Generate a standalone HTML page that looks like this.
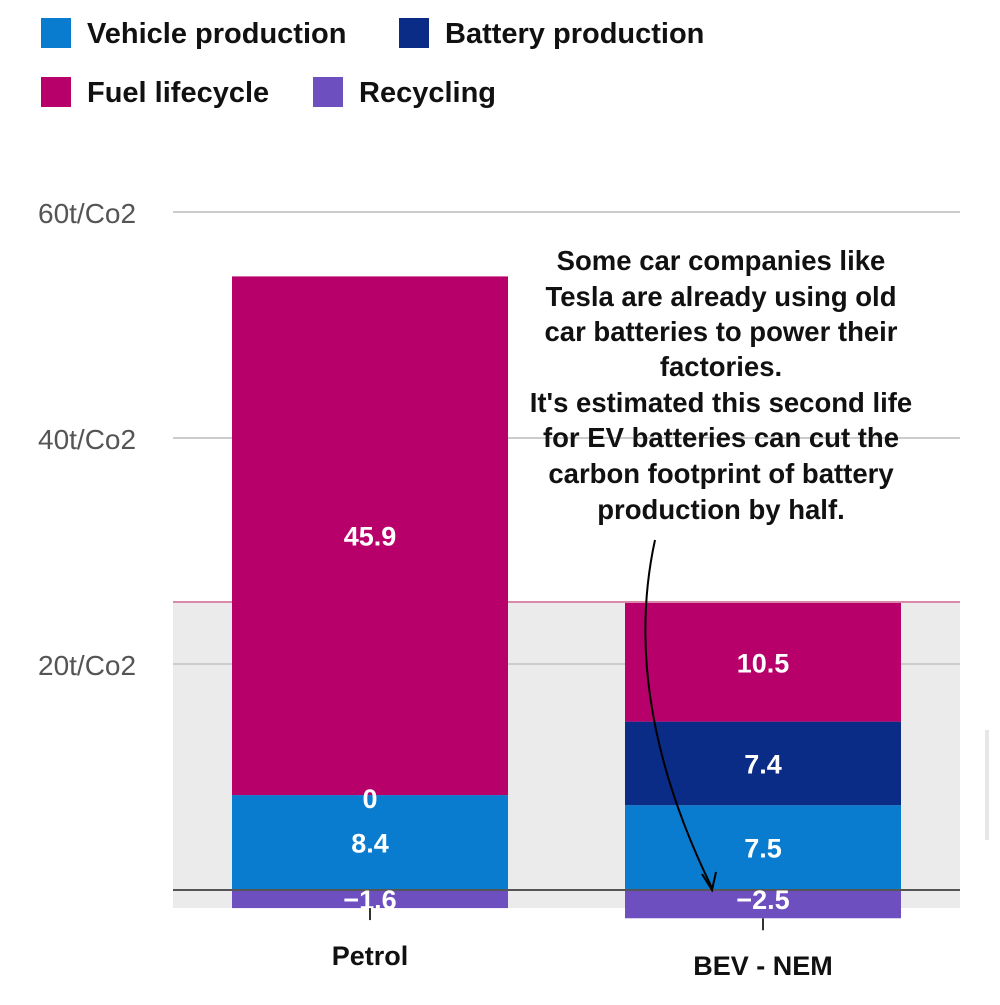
<!DOCTYPE html>
<html><head><meta charset="utf-8"><style>
body{margin:0;background:#fff;width:1000px;height:1000px;overflow:hidden;font-family:"Liberation Sans",sans-serif}
</style></head><body>
<svg width="1000" height="1000" id="c" xmlns="http://www.w3.org/2000/svg">
<g font-size="29" font-weight="bold" fill="#111">
<g><rect x="41" y="18" width="30" height="30" fill="#0a7ccf"/><text x="87" y="43">Vehicle production</text></g>
<g><rect x="399" y="18" width="30" height="30" fill="#0a2b86"/><text x="445" y="43">Battery production</text></g>
<g><rect x="41" y="77" width="30" height="30" fill="#b8006a"/><text x="87" y="102">Fuel lifecycle</text></g>
<g><rect x="313" y="77" width="30" height="30" fill="#6e4fbf"/><text x="359" y="102">Recycling</text></g>
</g>
<rect x="173" y="602" width="787" height="306" fill="#ebebeb"/>
<line x1="173" y1="602" x2="960" y2="602" stroke="#d98aa8" stroke-width="2"/>
<g id="grid"></g>
<g id="bars"></g>
<line x1="173" y1="890" x2="960" y2="890" stroke="#555" stroke-width="2"/>
<g id="labels"></g>
<g font-size="27.5" font-weight="bold" fill="#111" text-anchor="middle">
<text x="721" y="270">Some car companies like</text>
<text x="721" y="306">Tesla are already using old</text>
<text x="721" y="341">car batteries to power their</text>
<text x="721" y="376">factories.</text>
<text x="721" y="412">It's estimated this second life</text>
<text x="721" y="447">for EV batteries can cut the</text>
<text x="721" y="483">carbon footprint of battery</text>
<text x="721" y="519">production by half.</text>
</g>
<path d="M655,540 Q620,700 712,888" fill="none" stroke="#000" stroke-width="2"/>
<path d="M702,874 L712,890 L716,872" fill="none" stroke="#000" stroke-width="2"/>
<rect x="985" y="730" width="4" height="110" fill="#e6e6e6"/>
</svg>
<script>
const categories=["Petrol","BEV - NEM"];
const vehicle=[8.4,7.5];
const battery=[0,7.4];
const fuel=[45.9,10.5];
const recycling=[-1.6,-2.5];
const yTicks=[20,40,60];
const ns="http://www.w3.org/2000/svg";
const y=v=>890-v*11.3;
const xc=i=>370+i*393;
const bw=276;
function mk(t,a,p){const e=document.createElementNS(ns,t);for(const k in a)e.setAttribute(k,a[k]);p.appendChild(e);return e;}
const grid=document.getElementById('grid'),bars=document.getElementById('bars'),labels=document.getElementById('labels');
yTicks.forEach(t=>{
 const l=mk('line',{x1:173,x2:960,y1:y(t),y2:y(t),stroke:'#ccc','stroke-width':2},grid);
 
 
 const tx=mk('text',{x:38,y:y(t)+11,'font-size':28,fill:'#555'},grid);
 tx.textContent=t+'t/Co2';
 
 
});
const series=[["vehicle",vehicle,"#0a7ccf"],["battery",battery,"#0a2b86"],["fuel",fuel,"#b8006a"]];
categories.forEach((c,i)=>{
 let base=0;
 series.forEach(([n,arr,col])=>{
  const v=arr[i];
  if(v>0){
   const r=mk('rect',{x:xc(i)-bw/2,y:y(base+v),width:bw,height:y(base)-y(base+v),fill:col},bars);
   
   
  }
  const ly=v>0?(y(base)+y(base+v))/2+10:y(base)+10;
  const t=mk('text',{x:xc(i),y:ly,'font-size':27,'font-weight':'bold',fill:'#fff','text-anchor':'middle'},labels);
  t.textContent=String(v);
  if(n==='battery'&&v===0)t.textContent='';
  
  
  base+=v;
 });
 if(i===0&&battery[i]===0){
  const z=mk('text',{x:xc(i),y:y(vehicle[i])+13,'font-size':27,'font-weight':'bold',fill:'#fff','text-anchor':'middle'},labels);
  z.textContent='0';
  
  
 }
 const rv=recycling[i];
 const r=mk('rect',{x:xc(i)-bw/2,y:y(0),width:bw,height:y(rv)-y(0),fill:'#6e4fbf'},bars);
 
 
 const t=mk('text',{x:xc(i),y:y(0)+19,'font-size':27,'font-weight':'bold',fill:'#fff','text-anchor':'middle'},labels);
 t.textContent='\u2212'+Math.abs(rv);
 
 
 const tk=mk('line',{x1:xc(i),x2:xc(i),y1:y(rv),y2:y(rv)+12,stroke:'#333','stroke-width':2},labels);
 
 
 const cl=mk('text',{x:xc(i),y:i===0?965:975,'font-size':27,'font-weight':'bold',fill:'#111','text-anchor':'middle'},labels);
 cl.textContent=c;
 
 
});
</script>
</body></html>
